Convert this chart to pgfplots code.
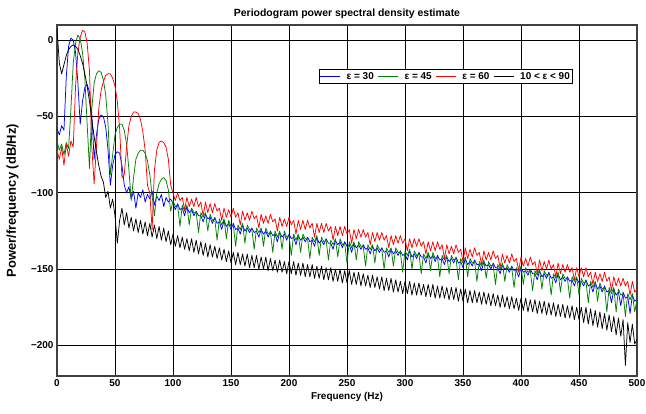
\documentclass[border=0pt]{standalone}
\usepackage{pgfplots}
\pgfplotsset{compat=1.18}
\usepackage{pgfplotstable}
\usepackage{fontspec}
\setmainfont{Liberation Sans}

\pgfplotstableread{
x k b g r
0 8 -58 -66 -72
2 -15 -62 -72 -78
4 -22 -56 -68 -70
6 -16 -59 -75 -82
8 -10 -24 -67 -68
10 -6 -4 -71 -76
12 -4 1.5 -45 -66
14 -3 0 -15 -70
16 -4 -8 -2 -30
18 -6 -28 3.5 -8
20 -10 -55 1 2
22 -15 -40 -8 6.5
24 -22 -31 -25 5.5
26 -30 -29 -55 -2
28 -40 -34 -84 -20
30 -52 -48 -45 -70
32 -63 -78 -28 -94
34 -73 -62 -22 -70
36 -82 -52 -20 -45
38 -89 -49 -21 -33
40 -93 -50 -26 -27
42 -103 -57 -36 -23
44 -99 -72 -55 -22
46 -110 -95 -88 -22
48 -104 -82 -75 -25
50 -115 -75 -62 -30
52 -133 -73 -57 -40
54 -118 -74 -55 -58
56 -110 -82 -55 -90
58 -121 -95 -59 -88
60 -113 -100 -68 -70
62 -123 -96 -85 -56
64 -116 -104 -105 -50
66 -125 -99 -90 -47
68 -117 -110 -78 -47
70 -126 -100 -74 -48
72 -118 -103 -72 -52
74 -127 -98 -72 -60
76 -119 -106 -74 -72
78 -128 -101 -79 -95
80 -120 -104 -88 -100
82 -129 -99 -102 -124
84 -121 -108 -115 -85
86 -130 -102 -100 -72
88 -122 -105 -94 -67
90 -131 -101 -91 -66
92 -123 -109 -90 -67
94 -132 -103 -92 -70
96 -125 -106 -98 -78
98 -134 -104 -112 -95
100 -127 -107 -105 -100
102 -135 -111 -109 -105
104 -128 -107 -108 -100
106 -136 -111 -122 -105
108 -129 -110 -108 -103
110 -137 -115 -112 -111
112 -130 -109 -108 -103
114 -138 -113 -121 -109
116 -130 -111 -110 -104
118 -139 -115 -113 -109
120 -131 -112 -113 -103
122 -140 -115 -126 -109
124 -132 -115 -113 -106
126 -141 -119 -116 -115
128 -133 -114 -113 -106
130 -142 -117 -125 -113
132 -134 -116 -114 -107
134 -142 -120 -118 -113
136 -135 -116 -117 -107
138 -143 -120 -131 -112
140 -136 -119 -117 -110
142 -144 -124 -121 -118
144 -137 -118 -117 -110
146 -145 -122 -130 -116
148 -138 -120 -118 -111
150 -146 -124 -122 -116
152 -139 -120 -121 -110
154 -147 -124 -135 -116
156 -139 -123 -121 -113
158 -147 -127 -124 -121
160 -140 -121 -120 -112
162 -148 -125 -133 -118
164 -140 -123 -121 -113
166 -149 -126 -124 -118
168 -141 -123 -124 -112
170 -149 -126 -137 -117
172 -141 -125 -123 -115
174 -150 -129 -126 -123
176 -142 -124 -123 -114
178 -150 -127 -135 -120
180 -142 -125 -123 -115
182 -151 -129 -127 -120
184 -143 -125 -126 -114
186 -151 -128 -139 -119
188 -144 -127 -125 -117
190 -152 -132 -129 -125
192 -144 -126 -125 -116
194 -152 -129 -137 -122
196 -145 -127 -125 -117
198 -153 -131 -129 -122
200 -145 -127 -128 -116
202 -153 -130 -141 -121
204 -145 -129 -127 -118
206 -154 -134 -131 -127
208 -146 -128 -127 -118
210 -154 -131 -139 -124
212 -146 -129 -127 -118
214 -155 -132 -130 -124
216 -147 -129 -130 -118
218 -155 -132 -143 -123
220 -147 -131 -129 -120
222 -156 -135 -132 -129
224 -148 -129 -128 -120
226 -156 -133 -141 -126
228 -148 -131 -129 -120
230 -157 -134 -132 -126
232 -149 -130 -131 -120
234 -157 -133 -144 -125
236 -149 -133 -131 -122
238 -158 -137 -134 -131
240 -150 -131 -130 -122
242 -158 -134 -142 -128
244 -150 -132 -130 -122
246 -159 -136 -134 -128
248 -151 -132 -133 -122
250 -159 -135 -146 -127
252 -151 -134 -132 -124
254 -160 -139 -136 -133
256 -152 -133 -132 -124
258 -160 -136 -144 -130
260 -152 -134 -132 -124
262 -161 -137 -135 -129
264 -153 -134 -135 -124
266 -161 -137 -148 -129
268 -154 -136 -134 -126
270 -162 -140 -137 -134
272 -154 -135 -134 -126
274 -162 -138 -146 -132
276 -155 -136 -134 -126
278 -163 -139 -137 -131
280 -155 -136 -137 -126
282 -164 -139 -150 -131
284 -156 -138 -136 -128
286 -164 -142 -139 -136
288 -156 -137 -136 -128
290 -165 -140 -148 -134
292 -157 -138 -136 -128
294 -165 -141 -139 -133
296 -158 -138 -139 -128
298 -166 -141 -152 -133
300 -158 -140 -138 -130
302 -166 -144 -141 -138
304 -158 -138 -137 -130
306 -167 -142 -150 -136
308 -159 -140 -138 -130
310 -167 -143 -141 -135
312 -159 -139 -140 -130
314 -167 -142 -153 -135
316 -160 -142 -140 -132
318 -168 -146 -143 -140
320 -160 -140 -139 -132
322 -168 -143 -151 -138
324 -160 -141 -139 -132
326 -169 -145 -143 -138
328 -161 -141 -142 -132
330 -169 -144 -155 -137
332 -161 -143 -141 -134
334 -169 -147 -144 -143
336 -162 -142 -141 -134
338 -170 -145 -153 -140
340 -162 -143 -141 -135
342 -170 -146 -144 -140
344 -162 -142 -143 -134
346 -171 -146 -157 -139
348 -163 -145 -143 -137
350 -171 -149 -146 -145
352 -163 -143 -142 -136
354 -172 -147 -155 -143
356 -164 -145 -143 -137
358 -172 -148 -146 -142
360 -164 -144 -145 -136
362 -172 -147 -158 -141
364 -165 -147 -145 -139
366 -173 -151 -148 -147
368 -165 -145 -144 -138
370 -173 -148 -156 -144
372 -166 -147 -145 -139
374 -174 -150 -148 -144
376 -166 -146 -147 -138
378 -174 -149 -160 -143
380 -167 -149 -147 -141
382 -175 -153 -150 -149
384 -167 -147 -146 -140
386 -175 -150 -158 -146
388 -168 -149 -147 -141
390 -176 -152 -150 -146
392 -168 -148 -149 -140
394 -176 -151 -162 -145
396 -169 -151 -149 -143
398 -177 -155 -152 -151
400 -169 -149 -148 -142
402 -177 -152 -160 -148
404 -169 -151 -149 -143
406 -178 -154 -152 -148
408 -170 -150 -151 -142
410 -178 -153 -164 -147
412 -170 -153 -151 -145
414 -179 -157 -154 -153
416 -171 -151 -150 -144
418 -179 -155 -163 -151
420 -171 -153 -151 -145
422 -180 -156 -154 -150
424 -172 -152 -153 -144
426 -180 -156 -167 -150
428 -172 -155 -153 -147
430 -181 -159 -156 -155
432 -173 -153 -152 -146
434 -181 -157 -165 -153
436 -173 -155 -153 -147
438 -182 -158 -156 -152
440 -174 -155 -156 -147
442 -182 -158 -169 -152
444 -174 -157 -155 -149
446 -183 -161 -158 -157
448 -175 -156 -155 -149
450 -183 -159 -167 -155
452 -175 -158 -156 -149
454 -185 -161 -159 -155
456 -175 -157 -158 -149
458 -186 -161 -172 -155
460 -176 -160 -158 -152
462 -187 -165 -162 -160
464 -177 -159 -158 -152
466 -188 -163 -171 -158
468 -178 -161 -159 -153
470 -189 -165 -163 -158
472 -179 -161 -162 -152
474 -190 -165 -178 -158
476 -180 -164 -162 -155
478 -191 -172 -166 -164
480 -181 -163 -162 -155
482 -193 -167 -178 -161
484 -182 -165 -163 -156
486 -194 -174 -167 -161
488 -183 -165 -166 -156
490 -213 -169 -181 -161
492 -185 -168 -166 -158
494 -198 -179 -170 -167
496 -186 -167 -166 -158
498 -199 -171 -178 -165
500 -196 -170 -170 -163
}\psd

\definecolor{mblue}{RGB}{0,0,255}
\definecolor{mgreen}{RGB}{0,128,0}
\definecolor{mred}{RGB}{255,0,0}

\begin{document}
\begin{tikzpicture}
\begin{axis}[
  name=ax,
  scale only axis, width=580bp, height=351bp,
  xmin=0, xmax=500, ymin=-220, ymax=10,
  xtick={0,50,100,150,200,250,300,350,400,450,500},
  xticklabels={0,50,100,150,200,250,300,350,400,450,500},
  ytick={-200,-150,-100,-50,0},
  yticklabels={−200,−150,−100,−50,0},
  grid=major, major grid style={black, line width=0.9pt},
  axis line style={black!75, line width=1.1pt},
  tick align=inside, major tick length=4pt, tick style={black, line width=0.8pt},
  tick label style={font=\bfseries\fontsize{10}{12}\selectfont},
  title={Periodogram power spectral density estimate},
  title style={font=\bfseries\fontsize{10.5}{12}\selectfont, yshift=-3pt},
  xlabel={Frequency (Hz)}, ylabel={Power/frequency (dB/Hz)},
  xlabel style={font=\bfseries\fontsize{10}{12}\selectfont, yshift=1pt},
  ylabel style={font=\bfseries\fontsize{13}{15}\selectfont, at={(axis description cs:-0.060,0.5)}, anchor=south},
  legend columns=4,
  legend style={at={(0.89,0.875)}, anchor=north east, draw=black, line width=0.8pt,
    font=\bfseries\fontsize{10}{11}\selectfont, inner sep=1pt,
    /tikz/every even column/.append style={column sep=2pt},
    /tikz/every odd column/.append style={column sep=4pt}},
  legend image code/.code={\draw[#1, line width=0.8pt] (0pt,0pt) -- (20pt,0pt);},
  every axis plot/.append style={line width=0.75pt, line join=round},
]
\addplot[mblue, legend image post style={draw=mblue}] table[x=x,y=b]{\psd};
\addplot[mgreen, legend image post style={draw=mgreen}] table[x=x,y=g]{\psd};
\addplot[mred, legend image post style={draw=mred}] table[x=x,y=r]{\psd};
\addplot[black, legend image post style={draw=black}] table[x=x,y=k]{\psd};
\legend{ε = 30, ε = 45, ε = 60, 10 < ε < 90}
\end{axis}
\pgfresetboundingbox
\path[use as bounding box] ([xshift=-57bp, yshift=-37bp]ax.south west) rectangle ([xshift=9bp, yshift=25bp]ax.north east);
\end{tikzpicture}
\end{document}
